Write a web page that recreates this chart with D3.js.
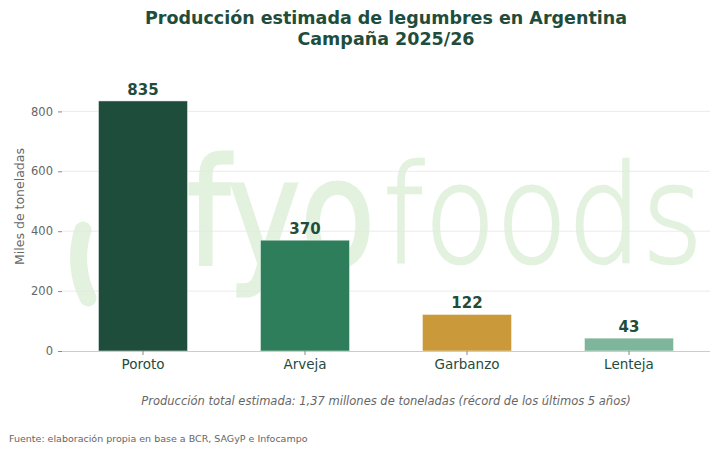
<!DOCTYPE html>
<html>
<head>
<meta charset="utf-8">
<script src="https://cdn.jsdelivr.net/npm/d3@7"></script>
<style>
  body { margin: 0; background: #fff; }
  text { font-family: "DejaVu Sans", sans-serif; }
</style>
</head>
<body>
<svg id="chart" width="719" height="453"></svg>
<script>
  // data
  var categories = ["Poroto", "Arveja", "Garbanzo", "Lenteja"];
  var values = [835, 370, 122, 43];
  var colors = ["#1f4d3c", "#2e7d5b", "#c9993a", "#7fb59b"];
  var yTicks = [0, 200, 400, 600, 800];

  var svg = d3.select("#chart"),
    margin = {top: 62, right: 9, bottom: 102, left: 62},
    width = 719 - margin.left - margin.right,
    height = 453 - margin.top - margin.bottom;

  var g = svg.append("g").attr("transform", "translate(" + margin.left + "," + margin.top + ")");

  var x = d3.scaleBand()
    .domain(categories)
    .range([0, width])
    .paddingInner(0.45)
    .paddingOuter(0.225);

  var y = d3.scaleLinear()
    .domain([0, 965])
    .range([height, 0]);

  // watermark, stretched horizontally to a target width
  function stretch(sel, x0, w) {
    var len = sel.node().getComputedTextLength();
    sel.attr("transform", "translate(" + x0 + ",0) scale(" + (w / len) + ",1)");
  }
  var wmColor = "#e3f2df";
  var wm = g.append("g").attr("fill", wmColor);
  wm.append("path")
    .attr("d", "M 26,236 A 70,80 0 0 1 21,168")
    .attr("fill", "none")
    .attr("stroke", wmColor)
    .attr("stroke-width", 17)
    .attr("stroke-linecap", "round");
  var fyo = wm.append("text")
    .attr("y", 203)
    .attr("font-family", "Roboto, 'DejaVu Sans', sans-serif")
    .attr("font-size", 148)
    .attr("font-weight", 500)
    .attr("stroke", wmColor)
    .attr("stroke-width", 3)
    .text("fyo");
  stretch(fyo, 125, 188);
  var foods = wm.append("text")
    .attr("y", 200)
    .attr("font-family", "'Open Sans', 'DejaVu Sans', sans-serif")
    .attr("font-size", 136)
    .attr("font-weight", 300)
    .attr("stroke", wmColor)
    .attr("stroke-width", 2.5)
    .text("foods");
  stretch(foods, 321, 320);

  // grid
  g.append("g")
    .selectAll("line")
    .data(yTicks.slice(1))
    .enter().append("line")
    .attr("x1", 0).attr("x2", width)
    .attr("y1", function(d) { return y(d); })
    .attr("y2", function(d) { return y(d); })
    .attr("stroke", "#e6e6e6")
    .attr("stroke-width", 0.8);

  // bars
  g.append("g")
    .selectAll("rect")
    .data(values)
    .enter().append("rect")
    .attr("x", function(d, i) { return x(categories[i]); })
    .attr("y", function(d) { return y(d); })
    .attr("width", x.bandwidth())
    .attr("height", function(d) { return height - y(d); })
    .attr("fill", function(d, i) { return colors[i]; })
    .attr("stroke", "#ffffff")
    .attr("stroke-opacity", 0.6)
    .attr("stroke-width", 0.8);

  // value labels
  g.append("g")
    .selectAll("text")
    .data(values)
    .enter().append("text")
    .attr("x", function(d, i) { return x(categories[i]) + x.bandwidth() / 2; })
    .attr("y", function(d) { return y(d) - 6; })
    .attr("text-anchor", "middle")
    .attr("font-size", 15)
    .attr("font-weight", "bold")
    .attr("fill", "#1f4d3c")
    .text(function(d) { return d; });

  // x axis
  var xAxis = g.append("g")
    .attr("transform", "translate(0," + height + ")")
    .call(d3.axisBottom(x).tickSize(4).tickPadding(4));
  xAxis.select(".domain").attr("stroke", "#cccccc").attr("d", "M0,0.5H" + width);
  xAxis.selectAll(".tick line").attr("stroke", "#888");
  xAxis.selectAll(".tick text")
    .attr("font-size", 13.5)
    .attr("fill", "#244c3c")
    .attr("font-family", "DejaVu Sans");

  // y axis
  var yAxis = g.append("g")
    .call(d3.axisLeft(y).tickValues(yTicks).tickSize(4).tickPadding(5));
  yAxis.select(".domain").remove();
  yAxis.selectAll(".tick line").attr("stroke", "#888");
  yAxis.selectAll(".tick text")
    .attr("font-size", 11.5)
    .attr("fill", "#666")
    .attr("font-family", "DejaVu Sans");

  svg.append("text")
    .attr("transform", "translate(24," + (margin.top + height / 2) + ") rotate(-90)")
    .attr("text-anchor", "middle")
    .attr("font-size", 12.5)
    .attr("fill", "#666")
    .text("Miles de toneladas");

  // title
  var cx = margin.left + width / 2;
  var title = svg.append("text")
    .attr("text-anchor", "middle")
    .attr("font-size", 17.5)
    .attr("font-weight", "bold")
    .attr("fill", "#1f4d3c");
  title.append("tspan").attr("x", cx).attr("y", 24).text("Producción estimada de legumbres en Argentina");
  title.append("tspan").attr("x", cx).attr("y", 45).text("Campaña 2025/26");

  // notes
  svg.append("text")
    .attr("x", cx)
    .attr("y", 405)
    .attr("text-anchor", "middle")
    .attr("font-size", 11.5)
    .attr("font-style", "italic")
    .attr("fill", "#666")
    .text("Producción total estimada: 1,37 millones de toneladas (récord de los últimos 5 años)");

  svg.append("text")
    .attr("x", 9)
    .attr("y", 442)
    .attr("font-size", 9.5)
    .attr("fill", "#666")
    .text("Fuente: elaboración propia en base a BCR, SAGyP e Infocampo");
</script>
</body>
</html>
